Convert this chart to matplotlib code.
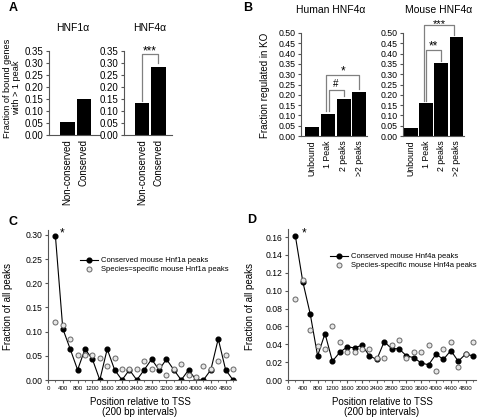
"""
Four-panel figure: peak conservation (A), KO regulation by peak count (B),
and peak position relative to the TSS for Hnf1a (C) and Hnf4a (D).
"""

import matplotlib
matplotlib.use("Agg")
import matplotlib.pyplot as plt
import numpy as np

plt.rcParams["font.family"] = ["Liberation Sans", "DejaVu Sans"]

W, H = 479, 417
SPINE = "#555555"
BRACKET = "#808080"

# --- Data ------------------------------------------------------------------

a_groups = ["Non-conserved", "Conserved"]
a_hnf1 = [0.055, 0.148]
a_hnf4 = [0.132, 0.285]

b_groups = ["Unbound", "1 Peak", "2 peaks", ">2 peaks"]
b_human = [0.043, 0.105, 0.178, 0.212]
b_mouse = [0.037, 0.158, 0.355, 0.480]

tss_pos = [200, 400, 600, 800, 1000, 1200, 1400, 1600, 1800, 2000, 2200, 2400,
           2600, 2800, 3000, 3200, 3400, 3600, 3800, 4000, 4200, 4400, 4600,
           4800, 5000]
tss_ticks = [0, 400, 800, 1200, 1600, 2000, 2400, 2800, 3200, 3600, 4000, 4400, 4800]

c_conserved = [0.298, 0.106, 0.064, 0.021, 0.064, 0.043, 0.0, 0.064, 0.021, 0.0,
               0.021, 0.0, 0.021, 0.043, 0.021, 0.043, 0.021, 0.0, 0.021, 0.0,
               0.0, 0.021, 0.085, 0.021, 0.0]
c_specific = [0.119, 0.113, 0.085, 0.051, 0.051, 0.051, 0.045, 0.028, 0.045, 0.023,
              0.023, 0.023, 0.040, 0.023, 0.028, 0.011, 0.023, 0.034, 0.011, 0.006,
              0.028, 0.023, 0.040, 0.051, 0.023]

d_conserved = [0.161, 0.110, 0.074, 0.027, 0.052, 0.021, 0.031, 0.037, 0.036, 0.039,
               0.027, 0.023, 0.043, 0.035, 0.035, 0.027, 0.025, 0.019, 0.017, 0.029,
               0.023, 0.033, 0.021, 0.029, 0.027]
d_specific = [0.091, 0.112, 0.056, 0.038, 0.035, 0.060, 0.042, 0.031, 0.031, 0.035,
              0.035, 0.025, 0.025, 0.039, 0.045, 0.025, 0.031, 0.031, 0.039, 0.010,
              0.035, 0.042, 0.014, 0.029, 0.042]


# --- Helpers ---------------------------------------------------------------

def px_box(left, top, right, bottom):
    """Axes rectangle from pixel edges (y measured from the top)."""
    return [left / W, 1 - bottom / H, (right - left) / W, (bottom - top) / H]


def fig_text(fig, x, y, s, **kw):
    fig.text(x / W, 1 - y / H, s, **kw)


def style_axes(ax, tick_size):
    for side in ("top", "right"):
        ax.spines[side].set_visible(False)
    for side in ("left", "bottom"):
        ax.spines[side].set_color(SPINE)
        ax.spines[side].set_linewidth(0.8)
    ax.tick_params(color=SPINE, width=0.8, length=2.5, labelsize=tick_size, pad=1.5)


def bracket(ax, x0, x1, y0, ytop, y1, label, size=8, lift=0.0):
    ax.plot([x0, x0, x1, x1], [y0, ytop, ytop, y1], color=BRACKET, lw=0.9,
            clip_on=False)
    ax.text((x0 + x1) / 2, ytop + lift, label, ha="center", va="bottom",
            fontsize=size)


def bar_panel(fig, box, labels, values, ymax, step, xlim, tick_size, label_size):
    ax = fig.add_axes(px_box(*box))
    x = np.arange(len(labels))
    ax.bar(x, values, width=0.9, color="black")
    ax.set_xlim(*xlim)
    ax.set_ylim(0, ymax)
    ax.set_yticks(np.arange(0, ymax + 1e-9, step))
    ax.yaxis.set_major_formatter(plt.FormatStrFormatter("%.2f"))
    ax.set_xticks(x)
    ax.set_xticklabels(labels, rotation=90, fontsize=label_size)
    style_axes(ax, tick_size)
    ax.tick_params(axis="x", length=0, pad=3)
    return ax


def tss_panel(fig, box, conserved, specific, ymax, ytop, step):
    ax = fig.add_axes(px_box(*box))
    ax.plot(tss_pos, conserved, "-o", color="black", lw=0.8, ms=3.4)
    ax.plot(tss_pos, specific, "o", ls="none", ms=3.6, mfc="#e6e6e6",
            mec="#666666", mew=0.7)
    ax.set_xlim(0, 5080)
    ax.set_ylim(0, ytop)
    ax.set_yticks(np.arange(0, ymax + 1e-9, step))
    ax.yaxis.set_major_formatter(plt.FormatStrFormatter("%.2f"))
    ax.set_xticks(tss_ticks)
    ax.set_xticks(tss_pos, minor=True)
    style_axes(ax, 6.2)
    ax.tick_params(axis="x", which="major", labelsize=4.4, pad=1.5)
    ax.tick_params(axis="x", which="minor", color=SPINE, width=0.6, length=1.5)
    return ax


# --- Figure ----------------------------------------------------------------

def main():
    fig = plt.figure(figsize=(W / 100, H / 100), dpi=100)

    # Panel A
    ax1 = bar_panel(fig, (49, 51, 100, 135), a_groups, a_hnf1, 0.35, 0.05,
                    (-1.12, 1.97), 7.0, 6.6)
    ax2 = bar_panel(fig, (124, 51, 172, 135), a_groups, a_hnf4, 0.35, 0.05,
                    (-1.12, 1.85), 7.0, 6.6)
    bracket(ax2, 0, 1, 0.142, 0.336, 0.300, "***", size=8.5, lift=-0.012)
    fig_text(fig, 73, 28, "HNF1\u03b1", ha="center", va="center", fontsize=7.5)
    fig_text(fig, 150, 28, "HNF4\u03b1", ha="center", va="center", fontsize=7.5)
    fig_text(fig, 12, 88, "Fraction of bound genes\nwith > 1 peak", rotation=90,
             ha="center", va="center", fontsize=6.6, linespacing=1.0)
    fig_text(fig, 13, 8, "A", ha="center", va="center", fontsize=9, weight="bold")

    # Panel B
    ax3 = bar_panel(fig, (301, 33, 367, 136), b_groups, b_human, 0.50, 0.05,
                    (-0.72, 3.5), 6.3, 5.0)
    ax4 = bar_panel(fig, (403, 33, 464, 136), b_groups, b_mouse, 0.50, 0.05,
                    (-0.52, 3.5), 6.3, 5.0)
    bracket(ax3, 0.9, 3.0, 0.12, 0.295, 0.226, "*", size=8.5, lift=-0.012)
    bracket(ax3, 1.05, 2.0, 0.12, 0.223, 0.195, "#", size=7, lift=0.003)
    bracket(ax4, 1.0, 2.0, 0.168, 0.416, 0.365, "**", size=8.5, lift=-0.012)
    bracket(ax4, 0.85, 2.85, 0.168, 0.540, 0.490, "***", size=8, lift=-0.022)
    fig_text(fig, 331, 10, "Human HNF4\u03b1", ha="center", va="center", fontsize=7.5)
    fig_text(fig, 439, 10, "Mouse HNF4\u03b1", ha="center", va="center", fontsize=7.5)
    fig_text(fig, 265, 85, "Fraction regulated in KO", rotation=90,
             ha="center", va="center", fontsize=7)
    fig_text(fig, 248, 8, "B", ha="center", va="center", fontsize=9, weight="bold")

    # Panel C
    ax5 = tss_panel(fig, (48, 230, 236, 380), c_conserved, c_specific,
                    0.30, 0.31, 0.05)
    ax5.text(330, 0.302, "*", ha="left", va="center", fontsize=8.5)
    # Panel D
    ax6 = tss_panel(fig, (288, 229, 476, 380), d_conserved, d_specific,
                    0.16, 0.169, 0.02)
    ax6.text(360, 0.164, "*", ha="left", va="center", fontsize=8.5)

    for ax, x0, y0, sep, name in ((ax5, 80, 257, "=", "Hnf1a"),
                                  (ax6, 330, 253, "-", "Hnf4a")):
        h_cons = plt.Line2D([], [], color="black", lw=0.8, marker="o", ms=3.4)
        h_spec = plt.Line2D([], [], ls="none", marker="o", ms=3.6, mfc="#e6e6e6",
                            mec="#666666", mew=0.7)
        ax.legend([h_cons, h_spec],
                  [f"Conserved mouse {name} peaks",
                   f"Species{sep}specific mouse {name} peaks"],
                  loc="upper left", bbox_to_anchor=(x0 / W, 1 - y0 / H),
                  bbox_transform=fig.transFigure, frameon=False, fontsize=5.5,
                  handlelength=2.4, handletextpad=0.3, labelspacing=0.2,
                  borderpad=0, borderaxespad=0)

    for cx in (140, 382):
        fig_text(fig, cx, 402, "Position relative to TSS", ha="center",
                 va="center", fontsize=7)
        fig_text(fig, cx, 412, "(200 bp intervals)", ha="center",
                 va="center", fontsize=7)
    fig_text(fig, 8, 307, "Fraction of all peaks", rotation=90, ha="center",
             va="center", fontsize=7)
    fig_text(fig, 250, 307, "Fraction of all peaks", rotation=90, ha="center",
             va="center", fontsize=7)
    fig_text(fig, 13, 222, "C", ha="center", va="center", fontsize=9, weight="bold")
    fig_text(fig, 252, 220, "D", ha="center", va="center", fontsize=9, weight="bold")

    fig.savefig("out.png", dpi=100)
    plt.close(fig)


if __name__ == "__main__":
    main()
